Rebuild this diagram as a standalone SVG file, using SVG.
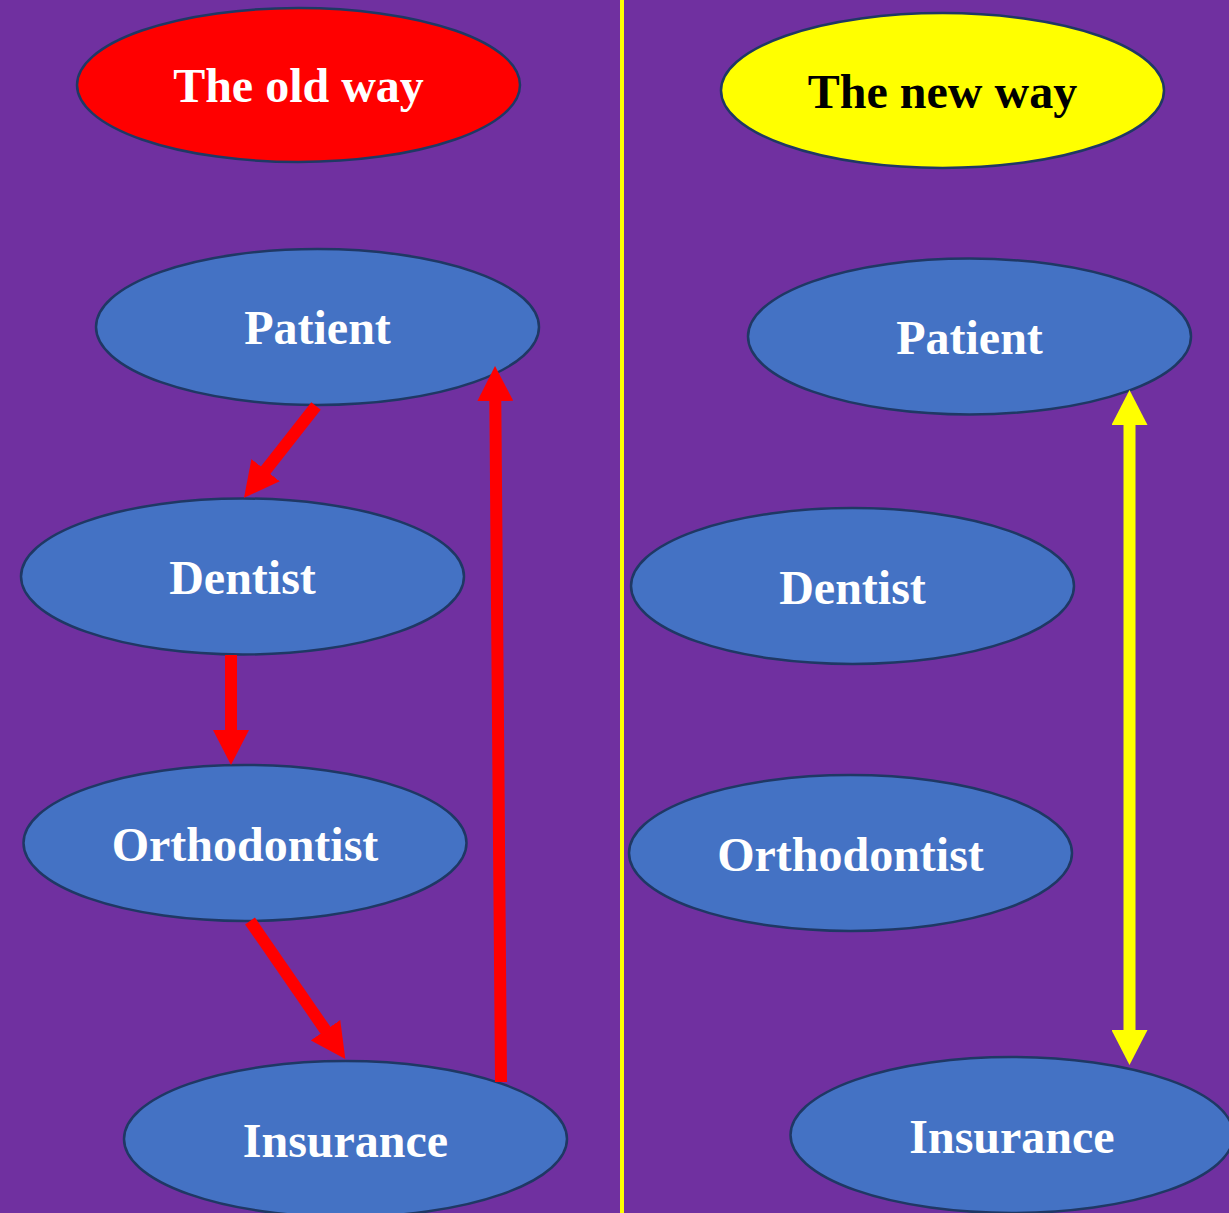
<svg xmlns="http://www.w3.org/2000/svg" width="1229" height="1213" viewBox="0 0 1229 1213">
  <style>
    .node { fill: #4472C4; stroke: #1F3864; stroke-width: 2.5; }
    .label { font-family: "Liberation Serif", "Times New Roman", serif; font-weight: bold; font-size: 48px; text-anchor: middle; fill: #FFFFFF; }
    .red { stroke: #FF0000; stroke-width: 12; fill: none; }
    .yellow { stroke: #FFFF00; stroke-width: 12; fill: none; }
  </style>
  <defs>
    <marker id="headRed" markerUnits="userSpaceOnUse" markerWidth="36" markerHeight="36" refX="1" refY="18" orient="auto" viewBox="0 0 36 36">
      <path d="M0,0 L35,18 L0,36 z" fill="#FF0000"/>
    </marker>
    <marker id="headYellow" markerUnits="userSpaceOnUse" markerWidth="36" markerHeight="36" refX="1" refY="18" orient="auto-start-reverse" viewBox="0 0 36 36">
      <path d="M0,0 L35,18 L0,36 z" fill="#FFFF00"/>
    </marker>
  </defs>

  <!-- background and divider -->
  <rect x="0" y="0" width="1229" height="1213" fill="#7030A0"/>
  <rect x="620" y="0" width="4" height="1213" fill="#FFFF00"/>

  <!-- left column: the old way -->
  <g id="old-way">
    <ellipse cx="298.5" cy="85" rx="221.5" ry="77" fill="#FF0000" stroke="#1F3864" stroke-width="2.5"/>
    <text class="label" x="298.5" y="102">The old way</text>
  </g>
  <g id="patient-old">
    <ellipse class="node" cx="317.5" cy="327" rx="221.5" ry="78"/>
    <text class="label" x="317.5" y="344">Patient</text>
  </g>
  <g id="dentist-old">
    <ellipse class="node" cx="242.5" cy="576.5" rx="221.5" ry="78"/>
    <text class="label" x="242.5" y="594">Dentist</text>
  </g>
  <g id="orthodontist-old">
    <ellipse class="node" cx="245" cy="843" rx="221.5" ry="78"/>
    <text class="label" x="245" y="861">Orthodontist</text>
  </g>
  <g id="insurance-old">
    <ellipse class="node" cx="345.5" cy="1139" rx="221.5" ry="78"/>
    <text class="label" x="345.5" y="1157">Insurance</text>
  </g>

  <!-- right column: the new way -->
  <g id="new-way">
    <ellipse cx="942.5" cy="90.5" rx="221.5" ry="77.5" fill="#FFFF00" stroke="#1F3864" stroke-width="2.5"/>
    <text class="label" x="942.5" y="108" style="fill:#000000">The new way</text>
  </g>
  <g id="patient-new">
    <ellipse class="node" cx="969.5" cy="336.5" rx="221.5" ry="78"/>
    <text class="label" x="969.5" y="354">Patient</text>
  </g>
  <g id="dentist-new">
    <ellipse class="node" cx="852.5" cy="586" rx="221.5" ry="78"/>
    <text class="label" x="852.5" y="604">Dentist</text>
  </g>
  <g id="orthodontist-new">
    <ellipse class="node" cx="850.5" cy="853" rx="221.5" ry="78"/>
    <text class="label" x="850.5" y="871">Orthodontist</text>
  </g>
  <g id="insurance-new">
    <ellipse class="node" cx="1012" cy="1135" rx="221.5" ry="78"/>
    <text class="label" x="1012" y="1153">Insurance</text>
  </g>

  <!-- connectors -->
  <g id="connectors">
    <line class="red" x1="316" y1="406" x2="265" y2="471" marker-end="url(#headRed)"/>
    <line class="red" x1="231" y1="655" x2="231" y2="731" marker-end="url(#headRed)"/>
    <line class="red" x1="250" y1="921" x2="326" y2="1031" marker-end="url(#headRed)"/>
    <line class="red" x1="501" y1="1082" x2="495.3" y2="400" marker-end="url(#headRed)"/>
    <line class="yellow" x1="1129.5" y1="424" x2="1129.5" y2="1031" marker-start="url(#headYellow)" marker-end="url(#headYellow)"/>
  </g>
</svg>
